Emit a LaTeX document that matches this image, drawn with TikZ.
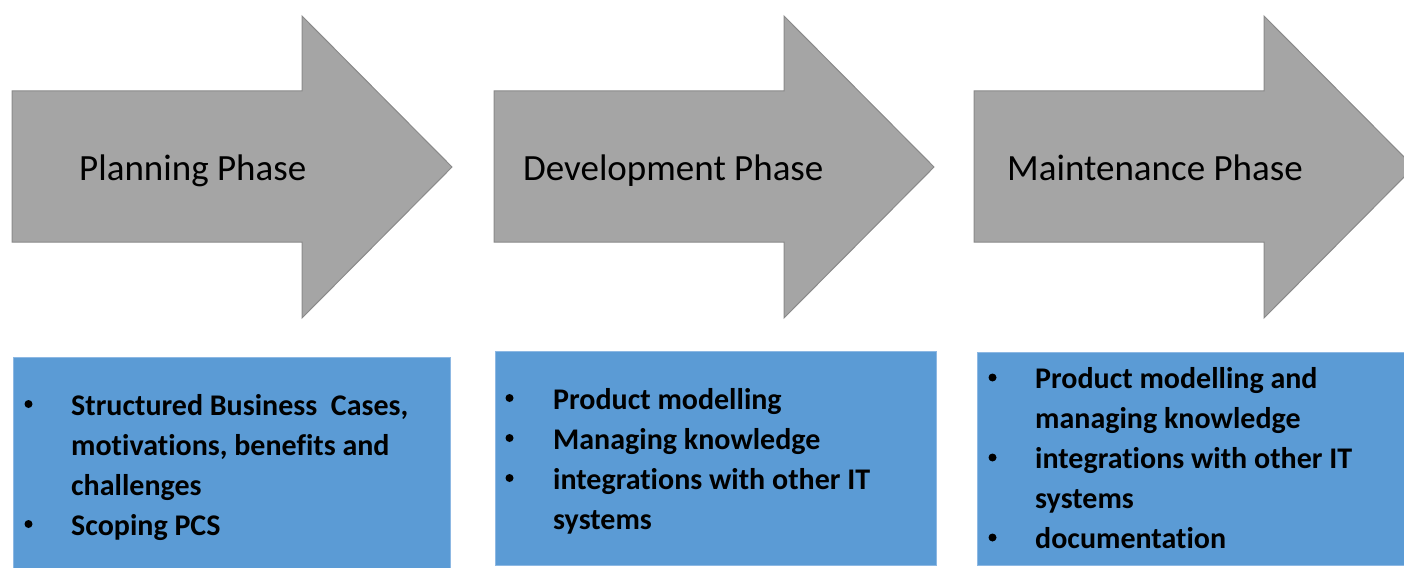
\documentclass[tikz,border=0pt]{standalone}
\usepackage{fontspec}
\setmainfont{Carlito}[RawFeature={-liga;-clig;-calt;-dlig}]
\newcommand{\nlti}{t\kern0pt i}
\definecolor{arrowgrey}{HTML}{A5A5A5}
\definecolor{arrowedge}{HTML}{8A8A8A}
\definecolor{boxblue}{HTML}{5B9BD5}
\definecolor{boxedge}{HTML}{8DB8E3}
\begin{document}
\begin{tikzpicture}[x=1pt,y=-1pt,
  arrowshape/.style={fill=arrowgrey, draw=arrowedge, line width=1pt, line join=miter},
  phasearrow/.pic={\path[arrowshape] (0,91) -- (290,91) -- (290,16) -- (440,167) -- (290,318) -- (290,242) -- (0,242) -- cycle;},
  phasetitle/.style={inner sep=0pt, anchor=base west, font=\fontsize{37}{44}\selectfont, text=black},
  panel/.style={fill=boxblue, draw=boxedge, line width=0.8pt, inner sep=0pt, anchor=north west},
  itemtext/.style={inner sep=0pt, anchor=base west, font=\fontsize{30}{40}\selectfont\bfseries, text=black},
  bulletdot/.style={circle, fill=black, draw=none, inner sep=0pt, minimum size=8pt},
]
\useasboundingbox (0,0) rectangle (1404,567);
\clip (0,0) rectangle (1404,567);
% arrows
\pic at (12,0) {phasearrow};
\pic at (494,0) {phasearrow};
\pic at (974,0) {phasearrow};
\node[phasetitle] (t1) at (79,180) {Planning Phase};
\node[phasetitle] (t2) at (523,180) {Development Phase};
\node[phasetitle] (t3) at (1007,180) {Maintenance Phase};
% panels
\node[panel, minimum width=437pt, minimum height=240pt] (p1) at (13,357) {};
\node[panel, minimum width=441pt, minimum height=214pt] (p2) at (495,351) {};
\node[panel, minimum width=440pt, minimum height=213pt] (p3) at (977,352) {};
% panel 1
\node[bulletdot] (p1b1) at (28.5,404) {};
\node[itemtext] (p1l1) at (71,415) {Structured Business\ \ Cases,};
\node[itemtext] (p1l2) at (71,455) {mo\nlti vations, benefits and};
\node[itemtext] (p1l3) at (71,495) {challenges};
\node[bulletdot] (p1b2) at (28.5,524) {};
\node[itemtext] (p1l4) at (71,535) {Scoping PCS};
% panel 2
\node[bulletdot] (p2b1) at (509.5,398) {};
\node[itemtext] (p2l1) at (553,409) {Product modelling};
\node[bulletdot] (p2b2) at (509.5,438) {};
\node[itemtext] (p2l2) at (553,449) {Managing knowledge};
\node[bulletdot] (p2b3) at (509.5,478) {};
\node[itemtext] (p2l3) at (553,489) {integra\nlti ons with other IT};
\node[itemtext] (p2l4) at (553,529) {systems};
% panel 3
\node[bulletdot] (p3b1) at (992.5,377.5) {};
\node[itemtext] (p3l1) at (1035,388) {Product modelling and};
\node[itemtext] (p3l2) at (1035,428) {managing knowledge};
\node[bulletdot] (p3b2) at (992.5,457.5) {};
\node[itemtext] (p3l3) at (1035,468) {integra\nlti ons with other IT};
\node[itemtext] (p3l4) at (1035,508) {systems};
\node[bulletdot] (p3b3) at (992.5,537.5) {};
\node[itemtext] (p3l5) at (1035,548) {documenta\nlti on};
\end{tikzpicture}
\end{document}
